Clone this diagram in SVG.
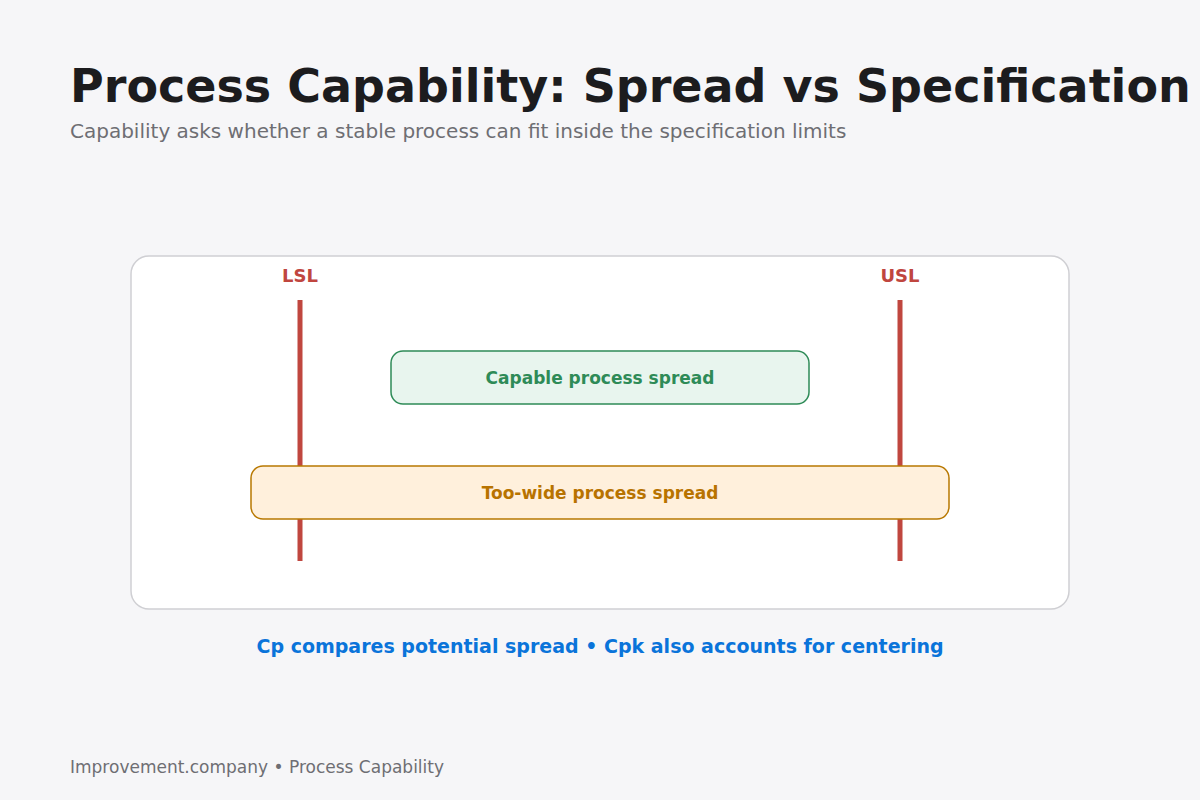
<svg xmlns="http://www.w3.org/2000/svg" width="1200" height="800" viewBox="0 0 1200 800">
<style>
text{font-family:"DejaVu Sans","Liberation Sans",sans-serif}
.lim{stroke:#c0463f;stroke-width:5}
.limt{fill:#c0463f;font-size:18px;font-weight:bold;text-anchor:middle}
.bt{font-size:17px;font-weight:bold;text-anchor:middle}
</style>
<rect width="1200" height="800" fill="#f6f6f8"/>
<text x="70" y="102" font-size="46" font-weight="bold" fill="#1c1c1e">Process Capability: Spread vs Specification</text>
<text x="70" y="138" font-size="20" fill="#6e6e73">Capability asks whether a stable process can fit inside the specification limits</text>
<rect x="131" y="256" width="938" height="353" rx="18" fill="#fff" stroke="#cfcfd3" stroke-width="1.5"/>
<g id="connectors">
<line class="lim" x1="300" y1="300" x2="300" y2="561"/>
<line class="lim" x1="900" y1="300" x2="900" y2="561"/>
</g>
<g id="lsl"><text class="limt" x="300" y="282">LSL</text></g>
<g id="usl"><text class="limt" x="900" y="282">USL</text></g>
<g id="capable">
<rect x="391" y="351" width="418" height="53" rx="12" fill="#e8f5ee" stroke="#2e8b57" stroke-width="1.5"/>
<text class="bt" x="600" y="384" fill="#2e8b57">Capable process spread</text>
</g>
<g id="toowide">
<rect x="251" y="466" width="698" height="53" rx="12" fill="#fff0dc" stroke="#b87800" stroke-width="1.5"/>
<text class="bt" x="600" y="499" fill="#b87300">Too-wide process spread</text>
</g>
<text x="600" y="653" font-size="19" font-weight="bold" fill="#0a74da" text-anchor="middle">Cp compares potential spread • Cpk also accounts for centering</text>
<text x="70" y="773" font-size="17" fill="#6e6e73">Improvement.company • Process Capability</text>
</svg>
